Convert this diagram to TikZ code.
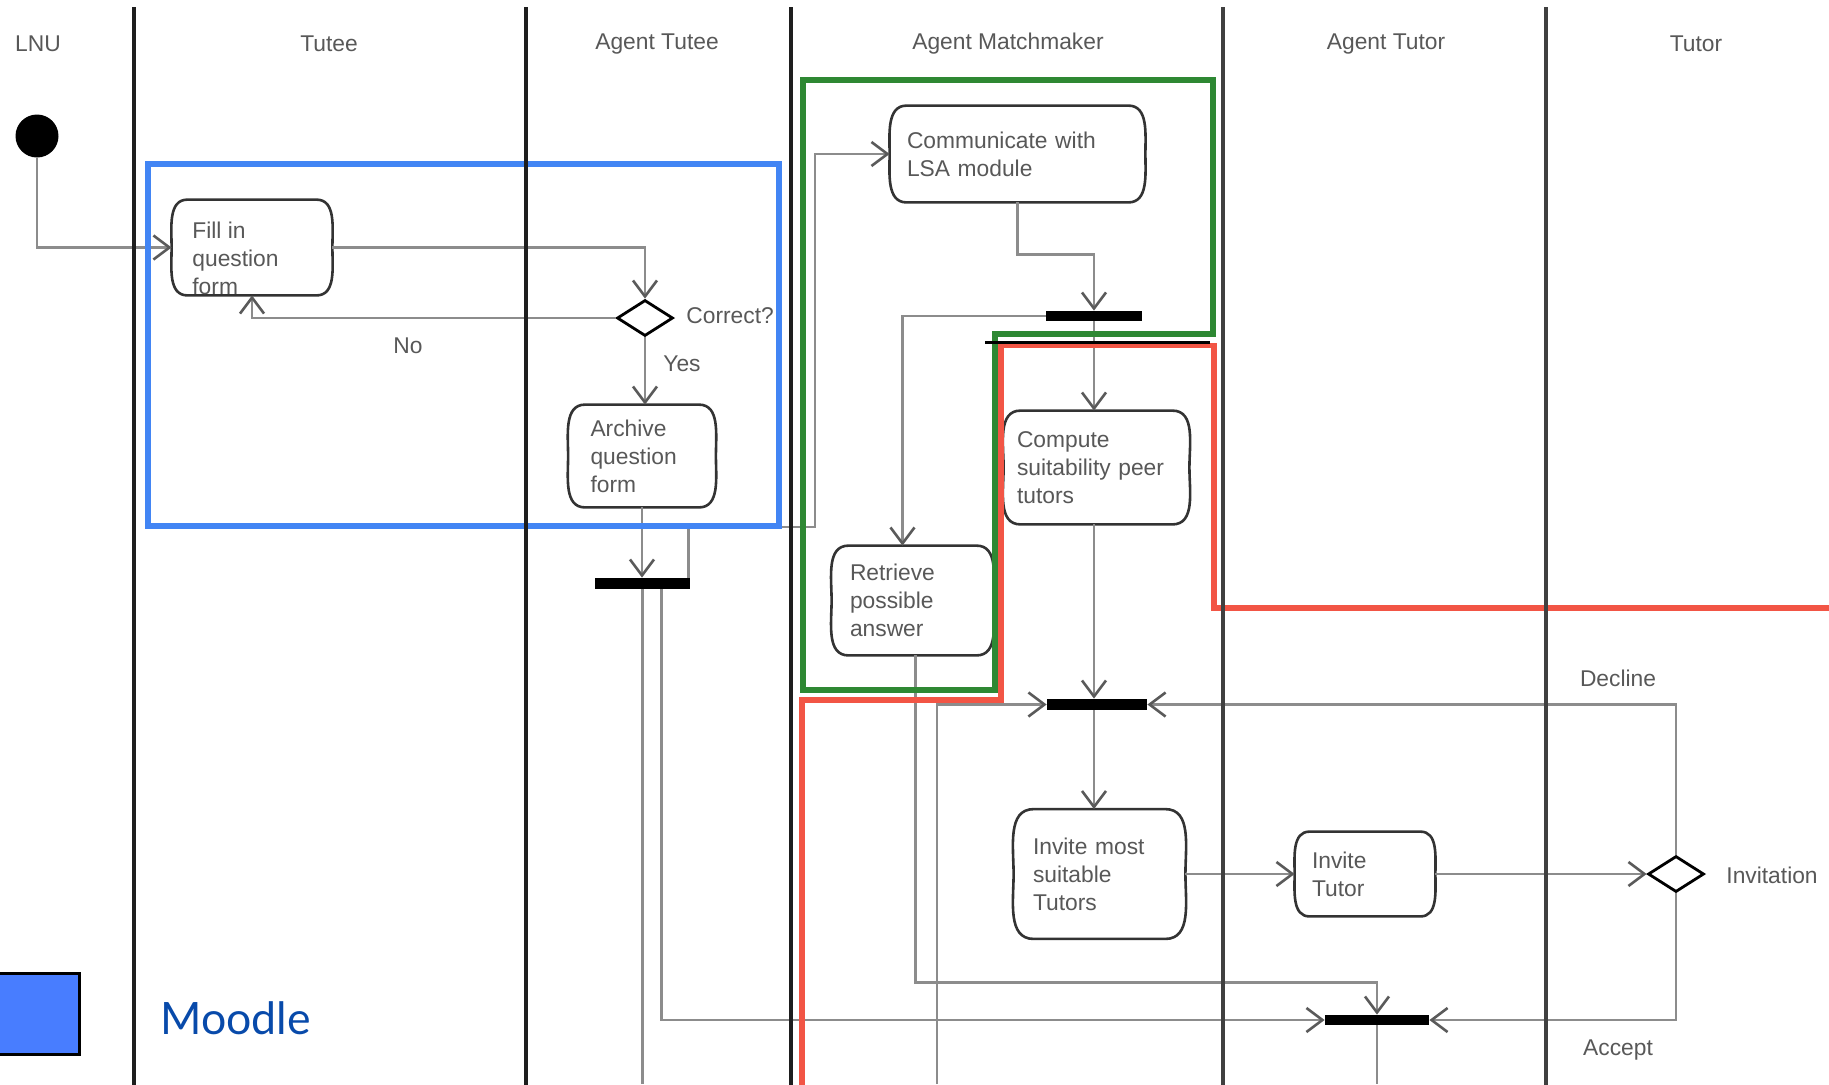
\documentclass[tikz,border=0pt]{standalone}
\usepackage{fontspec}
\setmainfont{Liberation Sans}
\newfontfamily\moodlefont{Lato}
\usetikzlibrary{arrows.meta,shapes.geometric,calc}
\definecolor{txt}{RGB}{88,88,88}
\definecolor{conn}{RGB}{140,140,140}
\definecolor{tipc}{RGB}{90,90,90}
\definecolor{lanec}{RGB}{30,30,30}
\definecolor{mblue}{RGB}{66,133,244}
\definecolor{mgreen}{RGB}{46,136,51}
\definecolor{mred}{RGB}{242,85,69}
\definecolor{sqblue}{RGB}{72,125,255}
\definecolor{moodletxt}{RGB}{8,74,170}
\tikzset{
  lbl/.style={text=txt, font=\fontsize{11.4pt}{14pt}\selectfont, inner sep=0pt},
  act/.style={draw=none, text=txt,
    font=\fontsize{11.4pt}{14pt}\selectfont, align=left, inner ysep=0pt},
  actline/.style={draw=black!80, line width=1.3pt, fill=white},
  fbar/.style={fill=black, draw=none, inner sep=0pt},
  decision/.style={diamond, draw=black, line width=1.4pt, fill=white, inner sep=0pt,
    minimum width=28pt, minimum height=18pt},
  flow/.style={draw=conn, line width=1.3pt, -{Straight Barb[length=8pt,width=12pt,color=tipc]}},
  plainline/.style={draw=conn, line width=1.3pt},
  lane/.style={draw=lanec, line width=1.6pt},
  region/.style={line width=2.6pt},
}
\begin{document}
\begin{tikzpicture}[x=0.5pt,y=-0.5pt]
\useasboundingbox (0,0) rectangle (1829,1084);

% nodes (positions and sizes)
\node[circle, fill=black, minimum size=21.5pt, inner sep=0pt] (init) at (37,136) {};
\node[act, minimum width=80pt, minimum height=47.5pt] (fill) at (252,247.5) {};
\node[act, inner xsep=11pt, text width=51.5pt, minimum height=51pt] (arch) at (642,456) {};
\node[act, inner xsep=8.5pt, text width=110.5pt, minimum height=48pt] (comm) at (1017.5,154) {};
\node[act, inner xsep=6.5pt, text width=79.5pt, minimum height=56.5pt] (comp) at (1096.5,467.5) {};
\node[act, inner xsep=9pt, text width=62.5pt, minimum height=54.5pt] (retr) at (912.5,600.5) {};
\node[act, inner xsep=9.5pt, text width=66.5pt, minimum height=64.5pt] (invm) at (1099.5,874) {};
\node[act, inner xsep=8.5pt, text width=53pt, minimum height=42pt] (invt) at (1365,874) {};
\node[decision] (dec1) at (645,318) {};
\node[decision] (dec2) at (1676,874) {};
\node[fbar, minimum width=47.5pt, minimum height=5.5pt] (bar1) at (642.5,583.5) {};
\node[fbar, minimum width=48pt, minimum height=5pt] (barL) at (1094,316) {};
\node[fbar, minimum width=50pt, minimum height=5.5pt] (bar3) at (1097,704.5) {};
\node[fbar, minimum width=52pt, minimum height=5pt] (bar4) at (1377,1020) {};

% activity outlines (flat top and bottom, bulging sides)
\foreach \n/\s in {fill/16,arch/17,comm/17,comp/17,retr/17,invm/20,invt/15} {
  \draw[actline] ($(\n.north west)+(\s,0)$) -- ($(\n.north east)+(-\s,0)$)
    to[out=0,in=90] (\n.east) to[out=-90,in=0] ($(\n.south east)+(-\s,0)$)
    -- ($(\n.south west)+(\s,0)$) to[out=180,in=-90] (\n.west)
    to[out=90,in=180] ($(\n.north west)+(\s,0)$) -- cycle;
}

% activity texts
\node[lbl, anchor=north west, align=left] (filltxt) at (192,222) {Fill in\\question\\form};
\node[act, inner xsep=11pt, text width=51.5pt, minimum height=51pt] (archtxt) at (arch) {Archive\\question\\form};
\node[act, inner xsep=8.5pt, text width=110.5pt, minimum height=48pt] (commtxt) at (comm) {Communicate with\\LSA module};
\node[act, inner xsep=6.5pt, text width=79.5pt, minimum height=56.5pt] (comptxt) at (comp) {Compute\\suitability peer\\tutors};
\node[act, inner xsep=9pt, text width=62.5pt, minimum height=54.5pt] (retrtxt) at (retr) {Retrieve\\possible\\answer};
\node[act, inner xsep=9.5pt, text width=66.5pt, minimum height=64.5pt] (invmtxt) at (invm) {Invite most\\suitable\\Tutors};
\node[act, inner xsep=8.5pt, text width=53pt, minimum height=42pt] (invttxt) at (invt) {Invite\\Tutor};

\coordinate (e1) at (643,1084);
\coordinate (e2) at (937,1084);
\coordinate (j1) at (815,527);

% connectors
\draw[flow] (init) |- (fill.west);
\draw[flow] (fill.east) -| (dec1.north);
\draw[flow] (dec1.west) -| (fill.south);
\draw[flow] (dec1.south) -- (dec1.south |- arch.north);
\draw[flow] (arch.south) -- (arch.south |- bar1.north);
\draw[flow] ([xshift=-1pt]bar1.north east) |- (j1) |- (comm.west);
\draw[plainline] (bar1.south) -- (bar1.south |- e1);
\draw[flow] ([xshift=9.5pt]bar1.south) |- (bar4.west);
\draw[flow] (comm.south) -- ++(0,52) -| (barL.north);
\draw[flow] (barL.west) -| ([xshift=-5pt]retr.north);
\draw[flow] (barL.south) -- (barL.south |- comp.north);
\draw[flow] (barL.south |- comp.south) -- (barL.south |- bar3.north);
\draw[flow] (e2) |- (bar3.west);
\draw[flow] (dec2.north) |- (bar3.east);
\draw[flow] (barL.south |- bar3.south) -- (barL.south |- invm.north);
\draw[flow] (invm.east) -- (invt.west);
\draw[flow] (invt.east) -- (dec2.west);
\draw[flow] (dec2.south) |- (bar4.east);
\draw[flow] ([xshift=1.5pt]retr.south) -- ++(0,327) -| (bar4.north);
\draw[plainline] (bar4.south) -- (bar4.south |- e1);

% labels
\node[lbl] (lnu) at (38,44) {LNU};
\node[lbl] (hTutee) at (329,44) {Tutee};
\node[lbl] (hAgTutee) at (657,44) {Agent Tutee};
\node[lbl] (hAgMatch) at (1008,44) {Agent Matchmaker};
\node[lbl] (hAgTutor) at (1386,44) {Agent Tutor};
\node[lbl] (hTutor) at (1696,44) {Tutor};
\node[lbl, anchor=west] (correct) at (686,316) {Correct?};
\node[lbl] (no) at (408,346) {No};
\node[lbl] (yes) at (682,364) {Yes};
\node[lbl] (decline) at (1618,678) {Decline};
\node[lbl, anchor=west] (invitation) at (1726,875) {Invitation};
\node[lbl] (accept) at (1618,1050) {Accept};

% coloured regions
\draw[region, mblue] (148,164) rectangle (779,526);
\draw[region, mgreen] (803,80) -- (1213,80) -- (1213,334) -- (995,334) -- (995,690) -- (803,690) -- cycle;
\draw[region, mred] (802,1092) -- (802,700) -- (1001,700) -- (1001,345.5) -- (1214,345.5) -- (1214,608) -- (1840,608);
\draw[line width=1.5pt] (985,342) -- (1210,342);

% swimlanes
\foreach \x in {134,526,791} \draw[lane] (\x,7) -- (\x,1092);
\foreach \x in {1223,1546} \draw[lane, draw=black!75, line width=2pt] (\x,7) -- (\x,1092);

% legend
\draw[fill=sqblue, line width=1.5pt] (-6,973) rectangle (79,1054);
\node[anchor=base west, inner sep=0pt, text=moodletxt, font=\moodlefont\fontsize{22.3pt}{26pt}\selectfont] (moodle) at (160,1034) {Moodle};
\end{tikzpicture}
\end{document}
